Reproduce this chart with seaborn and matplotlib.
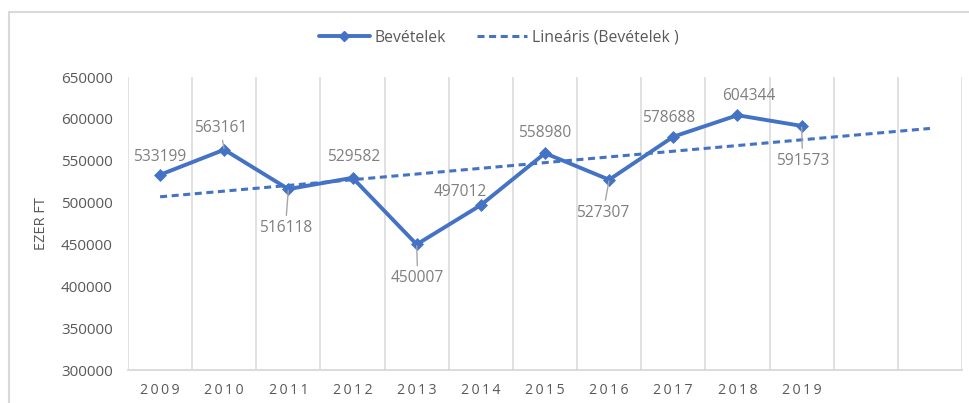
import numpy as np
import pandas as pd
import matplotlib
matplotlib.use("Agg")
import matplotlib.pyplot as plt
from matplotlib.patches import Rectangle
from matplotlib.lines import Line2D
import seaborn as sns

# ---- data ----
years = [2009, 2010, 2011, 2012, 2013, 2014, 2015, 2016, 2017, 2018, 2019]
revenue = [533199, 563161, 516118, 529582, 450007, 497012, 558980, 527307, 578688, 604344, 591573]
series_name = "Bevételek"
trend_name = "Lineáris (Bevételek )"
y_label = "EZER FT"
y_ticks = [300000, 350000, 400000, 450000, 500000, 550000, 600000, 650000]
forecast_periods = 2

# label offsets in pixels (dx, dy) and whether a leader line is drawn
label_offsets = [(0, 18), (-4, 22), (-3, -39), (1, 21), (1, -34), (-21, 13),
                 (0, 20), (-6, -33), (-5, 19), (11, 19), (1, -35)]
leaders = [False, True, True, False, True, False, False, True, False, False, True]

BLUE = "#4472C4"
GRID = "#D9D9D9"
TXT = "#595959"
LBL = "#7F7F7F"

sns.set_theme(style="white")
plt.rcParams["font.family"] = ["Open Sans", "DejaVu Sans"]

W, H = 969, 403
fig = plt.figure(figsize=(W / 100, H / 100), dpi=100)
ax = fig.add_axes([128 / W, 1 - 370 / H, (962 - 128) / W, (370 - 77) / H])

pos = np.arange(len(years))
df = pd.DataFrame({"pos": pos, "value": revenue})

sns.lineplot(data=df, x="pos", y="value", ax=ax, color=BLUE, linewidth=2.8,
             marker="D", markersize=6, markeredgecolor=BLUE, markeredgewidth=0.5,
             zorder=4)

# linear trendline (least squares on data), extended forward
coef = np.polyfit(pos + 1, revenue, 1)
tx = np.arange(len(years) + forecast_periods)
ty = np.polyval(coef, tx + 1)
ax.plot(tx, ty, color=BLUE, linewidth=2.2, dashes=(2.3, 1.5), zorder=3)

# data labels
for x, v, (dx, dy), lead in zip(pos, revenue, label_offsets, leaders):
    kw = {}
    if lead:
        kw["arrowprops"] = dict(arrowstyle="-", color="#A6A6A6", lw=1.0,
                                shrinkA=1, shrinkB=1)
    ax.annotate(f"{v}", xy=(x, v), xytext=(dx, dy), textcoords="offset pixels",
                ha="center", va="center", fontsize=11.2, color=LBL, zorder=5, **kw)

ax.set_xlim(-0.5, len(years) + forecast_periods - 0.5)
ax.set_ylim(y_ticks[0], y_ticks[-1])
ax.set_yticks(y_ticks)
ax.set_yticklabels([str(t) for t in y_ticks])
ax.set_xticks(pos)
ax.set_xticklabels(["\u2009".join(str(y)) for y in years])
ax.set_xticks(np.arange(-0.5, len(years) + forecast_periods, 1), minor=True)
ax.grid(False)
ax.grid(True, which="minor", axis="x", color=GRID, linewidth=1.1)
ax.tick_params(axis="y", length=0, pad=11, labelsize=11, labelcolor=TXT)
ax.tick_params(axis="x", which="both", length=0, pad=9, labelsize=10.2, labelcolor=TXT)
ax.set_xlabel("")
ax.set_ylabel("")
for s in ["top", "right", "left"]:
    ax.spines[s].set_visible(False)
ax.spines["bottom"].set_color(GRID)
ax.spines["bottom"].set_linewidth(1.3)

ax.text(-0.1035, 0.5, y_label, transform=ax.transAxes, rotation=90,
        ha="center", va="center", fontsize=10.5, color=TXT)

handles = [
    Line2D([], [], color=BLUE, linewidth=2.8, marker="D", markersize=5.5),
    Line2D([], [], color=BLUE, linewidth=2.2, dashes=(2.3, 1.5)),
]
fig.legend(handles, [series_name, trend_name], loc="center",
           bbox_to_anchor=(0.515, 0.906), ncol=2, frameon=False,
           fontsize=11.3, labelcolor=TXT, handlelength=3.2, handletextpad=0.3,
           columnspacing=2.0)

fig.patches.append(Rectangle((9 / W, -0.1), 1.2, 1.1 - 12 / H, fill=False,
                             edgecolor=GRID, linewidth=1.5,
                             transform=fig.transFigure, figure=fig))

fig.savefig("out.png", dpi=100)
